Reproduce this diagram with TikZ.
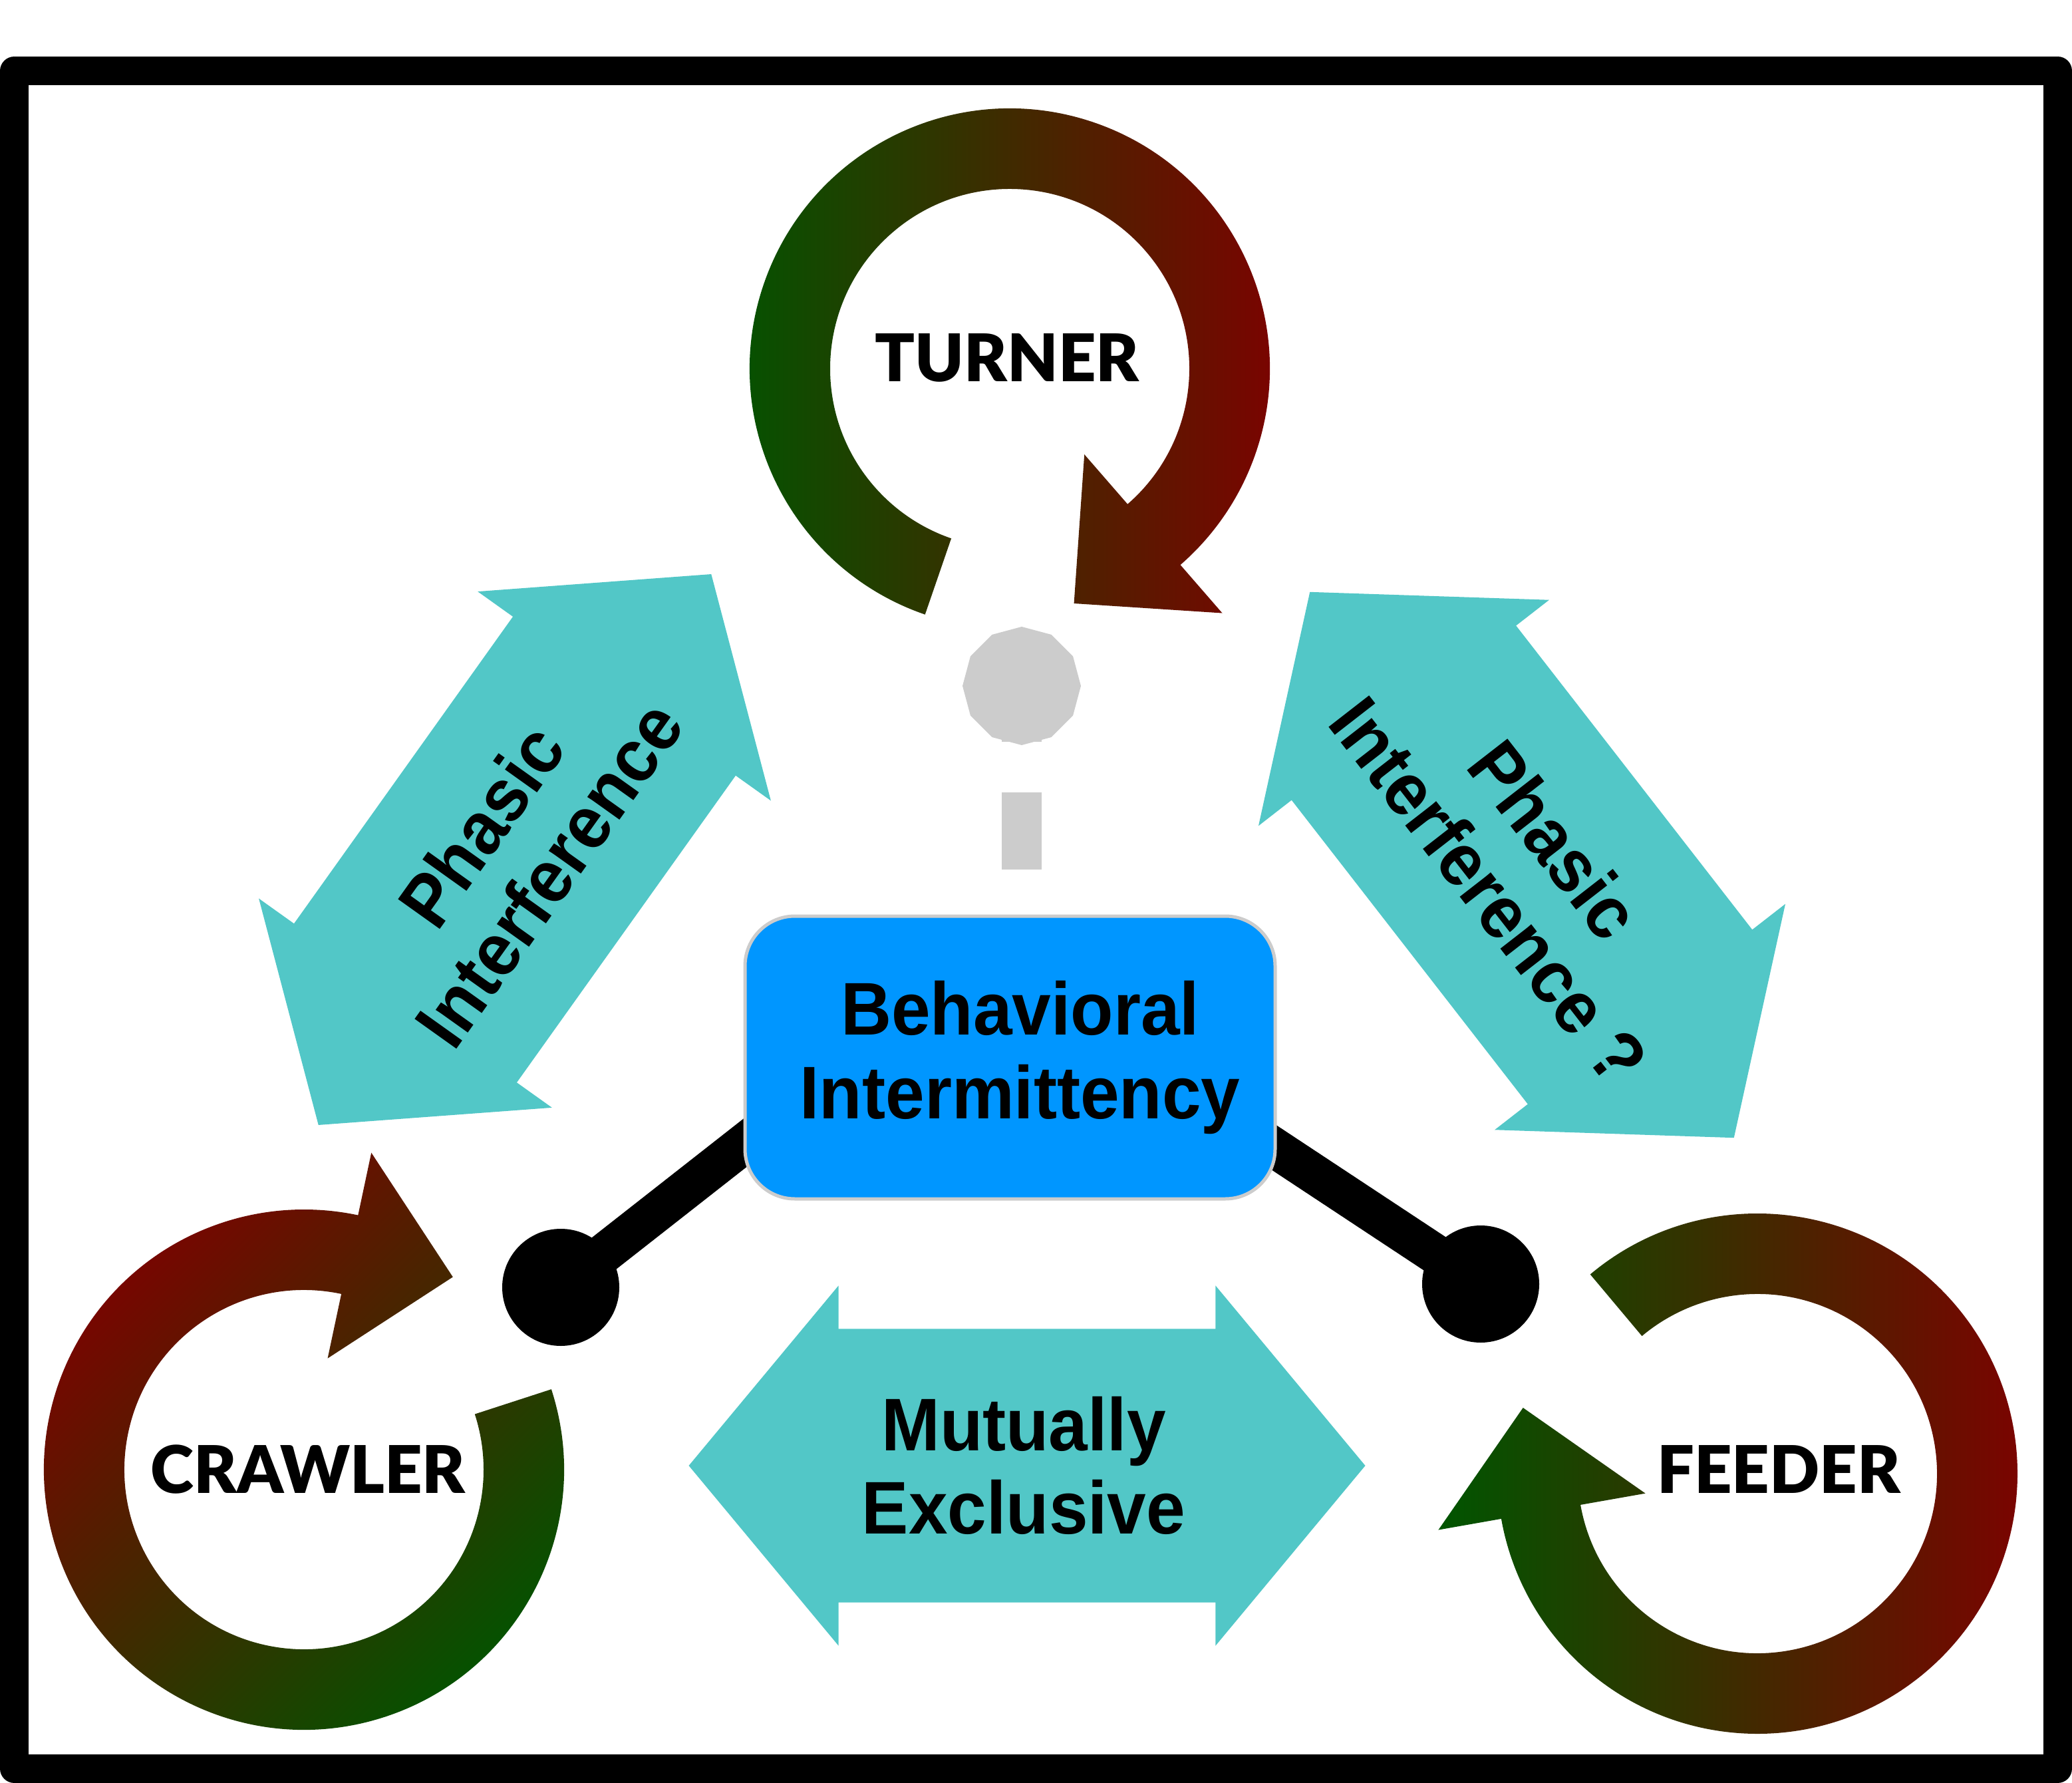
\documentclass[tikz,border=0pt]{standalone}
\usepackage{fontspec}
\setmainfont{Liberation Sans}
\newfontfamily\latofont{Lato Black}
\newfontfamily\narrowfont{Liberation Sans}[FakeStretch=0.94]
\usetikzlibrary{shapes.geometric,shapes.arrows,backgrounds}
\definecolor{ringgreen}{RGB}{0,85,0}
\definecolor{ringred}{RGB}{128,0,0}
\definecolor{aqua}{RGB}{82,199,199}
\definecolor{boxblue}{RGB}{0,150,255}
\tikzset{
  ring/.style={top color=ringred, bottom color=ringgreen},
  ringtext/.style={font=\latofont\fontsize{28.1}{34}\selectfont, inner sep=0},
  link/.style={double arrow, fill=aqua, double arrow tip angle=100.5, double arrow head extend=0.65cm, minimum height=10.17cm, minimum width=5.4cm, inner xsep=0, inner ysep=2.05cm},
  linktext/.style={font=\narrowfont\bfseries\fontsize{31.9}{35.6}\selectfont, align=center, inner sep=0},
  stick/.style={line width=0.6cm, black},
  blackdot/.style={circle, fill=black, minimum size=1.76cm, inner sep=0},
}
\begin{document}
\begin{tikzpicture}
\useasboundingbox (0,0) rectangle (31.15,-26.80);
\draw[line width=0.43cm, line join=round] (0.215,-1.065) rectangle (30.935,-26.585);

\foreach \cx/\cy/\a/\sa in {15.18/-5.54/251/-90, 4.57/-22.09/18/45, 26.42/-22.15/130/-90}{
  \pgfmathsetmacro\b{\a-300}
  \pgfmathsetmacro\t{\a-325.7}
  \shade[ring, shading angle=\sa, shift={(\cx,\cy)}] (\a:3.91) arc[start angle=\a, end angle=\b, radius=3.91]
    -- (\b:4.87) -- (\t:3.66) -- (\b:1.71) -- (\b:2.70) arc[start angle=\b, end angle=\a, radius=2.70] -- cycle;
}
\node[ringtext] (turner) at (15.14,-5.38) {TURNER};
\node[ringtext] (crawler) at (4.63,-22.09) {CRAWLER};
\node[ringtext] (feeder) at (26.74,-22.09) {FEEDER};

\node[link, rotate=54.5] (phasicl) at (7.74,-12.77) {};
\node[link, rotate=-52.15, minimum height=10.39cm, minimum width=5.52cm, double arrow head extend=0.63cm, inner ysep=2.13cm] (phasicr) at (22.88,-13.00) {};
\node[link] (mutex) at (15.44,-22.03) {};
\node[linktext, rotate=54.5] at (phasicl.center) {Phasic\\Interference};
\node[linktext, rotate=-52.15] at (phasicr.center) {Phasic\\Interference ?};
\node[linktext, xshift=-0.05cm] at (mutex.center) {Mutually\\Exclusive};

\node[draw=gray!40, line width=0.05cm, fill=boxblue, rounded corners=0.75cm, minimum width=7.97cm, minimum height=4.25cm, align=center, font=\narrowfont\bfseries\fontsize{31.9}{36.1}\selectfont] (box) at (15.185,-15.895) {\hspace*{0.3cm}Behavioral\\\hspace*{0.3cm}Intermittency};

\node[regular polygon, regular polygon sides=12, shape border rotate=15, fill=gray!40, minimum size=1.78cm, inner sep=0] (knot) at (15.36,-10.31) {};
\node[blackdot] (ldot) at (8.43,-19.35) {};
\node[blackdot] (rdot) at (22.26,-19.30) {};

\begin{scope}[on background layer]
\draw[line width=0.6cm, gray!40, dash pattern=on 0.84cm off 0.76cm on 1.16cm off 0.76cm] (knot.center) -- (knot.center |- box.north);
\draw[stick, shorten >=-0.4cm] (ldot.center) -- (box.198);
\draw[stick, shorten >=-0.4cm] (rdot.center) -- (box.341);
\end{scope}
\end{tikzpicture}
\end{document}
